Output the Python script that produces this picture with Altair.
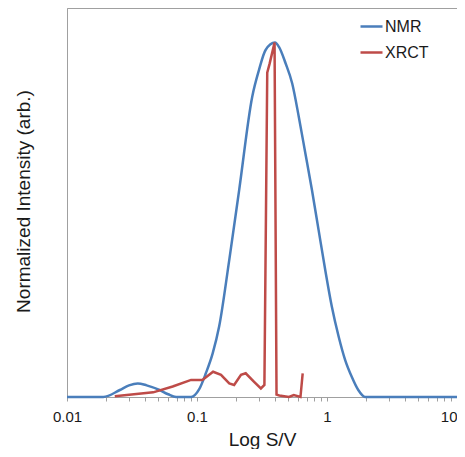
import altair as alt
import pandas as pd

# NMR curve (Log S/V, normalized intensity)
nmr_x = [0.01, 0.019, 0.0255, 0.030, 0.035, 0.041, 0.0515, 0.060, 0.069, 0.090,
         0.104, 0.117, 0.132, 0.148, 0.177, 0.211, 0.266, 0.300, 0.337, 0.398,
         0.427, 0.480, 0.540, 0.607, 0.682, 0.766, 0.862, 0.970, 1.09, 1.23,
         1.38, 1.55, 1.74, 1.96, 10.0]
nmr_y = [0.0, 0.0, 0.018, 0.030, 0.035, 0.030, 0.018, 0.007, 0.0, 0.0,
         0.020, 0.061, 0.112, 0.181, 0.352, 0.532, 0.772, 0.841, 0.892, 0.911,
         0.900, 0.858, 0.806, 0.720, 0.626, 0.532, 0.429, 0.326, 0.232, 0.155,
         0.095, 0.052, 0.018, 0.0, 0.0]

# XRCT curve
xrct_x = [0.0233, 0.046, 0.065, 0.090, 0.110, 0.133, 0.153, 0.177, 0.193, 0.218,
          0.237, 0.275, 0.310, 0.330, 0.347, 0.362, 0.395, 0.409, 0.430, 0.510,
          0.555, 0.625, 0.650]
xrct_y = [0.002, 0.012, 0.027, 0.044, 0.044, 0.065, 0.057, 0.035, 0.031, 0.057,
          0.061, 0.039, 0.022, 0.031, 0.834, 0.857, 0.911, 0.006, 0.004, 0.0,
          0.005, 0.0, 0.061]

series_names = ["NMR", "XRCT"]
series_colors = ["#4a7ebb", "#be4b48"]

tick_values = [0.01, 0.02, 0.03, 0.04, 0.05, 0.06, 0.07, 0.08, 0.09,
               0.1, 0.2, 0.3, 0.4, 0.5, 0.6, 0.7, 0.8, 0.9,
               1, 2, 3, 4, 5, 6, 7, 8, 9, 10]

nmr_df = pd.DataFrame({"x": nmr_x, "y": nmr_y, "series": "NMR", "i": range(len(nmr_x))})
xrct_df = pd.DataFrame({"x": xrct_x, "y": xrct_y, "series": "XRCT", "i": range(len(xrct_x))})

FONT = "Liberation Sans"
TEXT = "#1a1a1a"
GREY = "#a0a0a0"

xenc = alt.X(
    "x:Q",
    scale=alt.Scale(type="log", domain=[0.01, 10], nice=False),
    axis=alt.Axis(
        title="Log S/V",
        values=tick_values,
        labelExpr="datum.value == 0.01 ? '0.01' : datum.value == 0.1 ? '0.1' : datum.value == 1 ? '1' : datum.value == 10 ? '10' : ''",
        labelOverlap=False,
        labelFlush=False,
        labelAlign={"condition": {"test": "datum.value == 10", "value": "right"}, "value": "center"},
        grid=False,
        tickSize=4,
        tickColor=GREY,
        domainColor=GREY,
        labelPadding=8,
        labelFontSize=15,
        labelFont=FONT,
        labelColor=TEXT,
        titleFontSize=19,
        titleFont=FONT,
        titleFontWeight="normal",
        titleColor=TEXT,
        titleY=48,
        titleBaseline="alphabetic",
    ),
)
yenc = alt.Y(
    "y:Q",
    scale=alt.Scale(domain=[0, 1], nice=False),
    axis=alt.Axis(
        title="Normalized Intensity (arb.)",
        labels=False,
        ticks=False,
        grid=False,
        domainColor=GREY,
        titleFontSize=19,
        titleFont=FONT,
        titleFontWeight="normal",
        titleColor=TEXT,
        titleAngle=-90,
        titleBaseline="middle",
        titleX=-44,
        titleY=193,
    ),
)
color = alt.Color(
    "series:N",
    scale=alt.Scale(domain=series_names, range=series_colors),
    legend=alt.Legend(
        title=None,
        orient="none",
        legendX=292,
        legendY=6,
        symbolType="stroke",
        symbolSize=484,
        symbolStrokeWidth=2.5,
        labelFontSize=16,
        labelFont=FONT,
        labelColor=TEXT,
        labelOffset=1,
        rowPadding=5,
        padding=0,
    ),
)

nmr_line = alt.Chart(nmr_df).mark_line(strokeWidth=2.5, interpolate="monotone").encode(
    x=xenc, y=yenc, color=color, order="i:Q"
)
xrct_line = alt.Chart(xrct_df).mark_line(strokeWidth=2.5).encode(
    x=xenc, y=yenc, color=color, order="i:Q"
)

chart = (
    alt.layer(nmr_line, xrct_line)
    .properties(
        width=390,
        height=389,
        autosize=alt.AutoSizeParams(type="none"),
        padding={"left": 59, "top": 0, "right": 0, "bottom": 52},
        background="white",
    )
    .configure_view(stroke=GREY, strokeWidth=1)
)

chart.save("out.html", embed_options={"renderer": "svg", "actions": False})
